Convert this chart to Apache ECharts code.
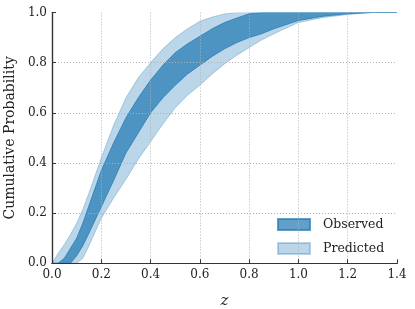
<!DOCTYPE html>
<html>
<head>
<meta charset="utf-8">
<script src="https://cdn.jsdelivr.net/npm/echarts@6/dist/echarts.min.js"></script>
<style>html,body{margin:0;padding:0;background:#fff;}#c{width:415px;height:309px;}</style>
</head>
<body>
<div id="c"></div>
<script>
const zs = [0,0.025,0.05,0.075,0.1,0.125,0.15,0.2,0.25,0.3,0.35,0.4,0.45,0.5,0.55,0.6,0.65,0.7,0.75,0.8,0.85,0.9,1.0,1.1,1.2,1.3,1.4];
const predUpper = [0,0.04,0.075,0.115,0.16,0.215,0.28,0.42,0.55,0.66,0.74,0.80,0.855,0.90,0.935,0.965,0.982,0.994,1,1,1,1,1,1,1,1,1];
const predLower = [0,0,0,0,0,0.02,0.07,0.18,0.26,0.335,0.415,0.485,0.555,0.62,0.67,0.71,0.755,0.795,0.83,0.86,0.89,0.915,0.96,0.98,0.992,1,1];
const obsUpper = [0,0,0.02,0.06,0.10,0.16,0.23,0.37,0.48,0.58,0.66,0.73,0.79,0.84,0.875,0.905,0.935,0.96,0.978,0.995,1,1,1,1,1,1,1];
const obsLower = [0,0,0,0,0.03,0.07,0.12,0.225,0.33,0.44,0.52,0.60,0.66,0.71,0.755,0.79,0.825,0.855,0.88,0.90,0.915,0.935,0.968,0.985,0.995,1,1];
const xTicks = [0,0.2,0.4,0.6,0.8,1.0,1.2,1.4];
const yTicks = [0,0.2,0.4,0.6,0.8,1.0];

const FONT = 'DejaVu Serif';
const chart = echarts.init(document.getElementById('c'), null, {renderer:'canvas'});

function band(upper, lower) {
  return function (params, api) {
    const pts = [];
    for (let i = 0; i < zs.length; i++) pts.push(api.coord([zs[i], upper[i]]));
    for (let i = zs.length - 1; i >= 0; i--) pts.push(api.coord([zs[i], lower[i]]));
    const c = params.coordSys;
    return {
      type: 'polygon',
      shape: { points: pts },
      style: api.style({ lineWidth: 1 }),
      clipPath: { type: 'rect', shape: { x: c.x, y: c.y, width: c.width, height: c.height } }
    };
  };
}

const spine = { show: true, lineStyle: { color: '#333', width: 1.2 } };
const grid = { color: '#b0b0b0', type: [1, 2], width: 1 };

const option = {
  animation: false,
  backgroundColor: '#fff',
  textStyle: { fontFamily: FONT },
  grid: { left: 52, right: 18, top: 12.5, bottom: 45.7, containLabel: false, outerBoundsMode: 'none' },
  legend: {
    orient: 'vertical', left: 272, top: 213,
    data: [{name:'Observed', icon:'rect'}, {name:'Predicted', icon:'rect'}],
    itemWidth: 32, itemHeight: 11, itemGap: 11,
    textStyle: { fontFamily: FONT, fontSize: 12.5, color: '#222', padding: [0,0,0,8] }
  },
  xAxis: [{
    type: 'value', min: 0, max: 1.4, interval: 0.2,
    name: 'z', nameLocation: 'middle', nameGap: 30,
    nameTextStyle: { fontFamily: FONT, fontStyle: 'italic', fontSize: 15, color: '#222' },
    axisLine: spine,
    axisTick: { show: true, inside: true, length: 4, lineStyle: { color: '#333' } },
    axisLabel: { fontFamily: FONT, fontSize: 12, color: '#222', margin: 6, formatter: v => v.toFixed(1) },
    splitLine: { show: true, showMinLine: false, showMaxLine: false, lineStyle: grid },
    z: 10
  }, {
    type: 'value', position: 'top', min: 0, max: 1.4, interval: 0.2,
    axisLine: spine, axisTick: { show: false }, axisLabel: { show: false }, splitLine: { show: false }, z: 10
  }],
  yAxis: [{
    type: 'value', min: 0, max: 1, interval: 0.2,
    name: 'Cumulative Probability', nameLocation: 'middle', nameGap: 26,
    nameTextStyle: { fontFamily: FONT, fontSize: 14, color: '#222' },
    axisLine: spine,
    axisTick: { show: true, inside: true, length: 4, lineStyle: { color: '#333' } },
    axisLabel: { fontFamily: FONT, fontSize: 12, color: '#222', margin: 5, formatter: v => v.toFixed(1) },
    splitLine: { show: true, showMinLine: false, showMaxLine: false, lineStyle: grid },
    z: 10
  }, {
    type: 'value', position: 'right', min: 0, max: 1, interval: 0.2,
    axisLine: spine, axisTick: { show: false }, axisLabel: { show: false }, splitLine: { show: false }, z: 10
  }],
  series: [
    {
      name: 'Predicted', type: 'custom', renderItem: band(predUpper, predLower),
      data: [0], z: 2,
      itemStyle: { color: 'rgba(31,119,180,0.3)', borderColor: 'rgba(31,119,180,0.3)', borderWidth: 1 }
    },
    {
      name: 'Observed', type: 'custom', renderItem: band(obsUpper, obsLower),
      data: [0], z: 3,
      itemStyle: { color: 'rgba(31,119,180,0.7)', borderColor: 'rgba(31,119,180,0.7)', borderWidth: 1 }
    }
  ]
};
chart.setOption(option);
</script>
</body>
</html>
